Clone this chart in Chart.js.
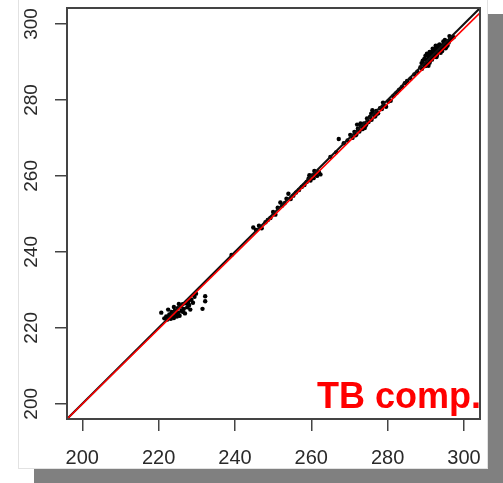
<!DOCTYPE html>
<html>
<head>
<meta charset="utf-8">
<script src="https://cdn.jsdelivr.net/npm/chart.js@4"></script>
<style>
  html, body { margin: 0; padding: 0; background: #ffffff; }
  body { width: 503px; height: 483px; position: relative; overflow: hidden; }
  #card { position: absolute; left: 18px; top: -2px; width: 468px; height: 469px;
          background: #ffffff; border: 1px solid #e2e2e2; box-shadow: 16px 16px 0 #808080; }
  #c { position: absolute; left: 0; top: 0; }
</style>
</head>
<body>
<div id="card"></div>
<canvas id="c" width="503" height="483"></canvas>
<script>
// Observed vs computed brightness temperature (K)
const measuredTB = [
  220.7,221.5,222.0,222.3,222.8,223.0,223.4,223.8,224.0,224.3,224.6,225.0,225.2,225.5,225.8,226.0,226.3,226.6,226.9,227.2,227.5,227.8,228.0,228.3,228.6,229.0,229.4,229.8,231.5,232.2,232.2,224.0,225.3,222.5,223.2,224.8,226.4,227.9,
  239.1,244.8,245.5,246.3,247.0,248.0,248.6,249.3,250.0,250.6,251.2,251.9,252.4,253.0,253.5,254.0,254.6,255.3,256.0,256.8,257.5,258.2,258.8,259.3,259.8,260.2,260.6,261.0,261.5,262.0,262.4,259.5,260.8,
  265.0,266.5,267.2,268.5,269.5,270.2,270.8,271.3,271.8,272.2,272.6,273.0,273.4,273.8,274.2,274.6,275.0,275.4,275.8,276.2,276.6,277.0,277.5,278.0,278.5,279.0,279.6,280.2,280.8,281.5,282.3,283.0,283.8,284.5,285.1,272.0,274.0,276.0,
  271.6,272.9,274.4,275.7,277.3,278.8,273.6,276.8,
  286.0,287.0,287.8,288.6,289.0,289.4,289.8,290.1,290.4,290.8,291.1,291.4,291.7,292.0,292.3,292.6,292.9,293.2,293.5,293.8,294.1,294.4,294.7,295.0,295.3,295.6,296.0,296.4,296.8,297.3,290.5,291.5,292.5,293.5,289.2,294.6,295.4,292.8,291.0,
  289.6,290.2,290.9,291.6,292.2,292.9,293.6,294.3,295.0,295.7,290.0,291.2,292.4,293.1,294.0,294.9,288.9,296.2,
  290.3,291.0,291.8,289.9,292.6,293.9,290.7,295.2
];
const computedTB = [
  224.0,222.5,223.0,222.2,223.5,222.8,224.2,223.1,222.6,224.6,223.7,225.2,224.0,223.2,225.6,224.5,226.2,225.0,223.8,226.5,225.4,227.0,226.0,224.8,227.4,226.6,228.2,229.0,225.0,227.0,228.3,225.5,226.3,224.8,222.4,223.0,224.2,225.9,
  239.2,246.4,245.8,246.9,246.2,247.8,248.4,248.9,250.5,249.8,251.6,253.0,252.2,252.8,254.0,255.3,253.9,254.8,255.6,256.3,257.1,257.6,258.4,259.3,258.8,260.1,259.4,260.6,260.0,261.0,260.4,260.2,261.3,
  265.0,266.2,269.7,268.6,269.3,270.8,270.0,271.6,270.9,272.4,271.7,273.1,272.3,273.8,273.2,275.1,274.2,275.6,274.8,276.3,275.6,277.1,276.5,277.8,277.6,278.6,278.2,279.6,279.8,281.0,281.8,282.6,283.4,284.4,285.0,273.5,272.6,277.3,
  270.7,273.8,273.5,276.4,276.4,279.3,272.6,275.8,
  285.6,286.7,287.4,288.6,288.2,289.5,288.9,290.6,289.6,291.2,290.3,291.8,290.9,292.3,291.5,292.8,292.0,293.4,292.7,293.9,293.2,294.4,293.8,295.0,294.4,295.4,295.1,295.9,296.2,296.5,291.8,292.6,293.6,294.4,290.3,295.4,294.0,291.3,289.8,
  290.8,289.3,292.2,290.6,293.3,291.7,294.6,292.9,295.8,294.3,289.0,291.0,291.4,294.2,293.0,294.0,289.7,296.8,
  292.2,292.6,293.5,291.6,294.3,292.4,289.0,293.6
];
const axisMin = 196.0;
const axisMax = 304.2;
const tickValues = [200, 220, 240, 260, 280, 300];
const identityX = [196.0, 304.2];
const identityY = [196.0, 304.2];
const fitX = [196.0, 304.2];
const fitY = [196.0, 302.9];
const annotationText = 'TB comp.';

const pts = measuredTB.map((x, i) => ({ x: x, y: computedTB[i] }));
const idPts = identityX.map((x, i) => ({ x: x, y: identityY[i] }));
const fitPts = fitX.map((x, i) => ({ x: x, y: fitY[i] }));

const frameColor = '#444444';
const labelColor = '#2a2a2a';
const fontFamily = '"Liberation Sans", Arial, Helvetica, sans-serif';

const framePlugin = {
  id: 'frame',
  afterDraw(chart) {
    const a = chart.chartArea, ctx = chart.ctx;
    ctx.save();
    ctx.strokeStyle = frameColor;
    ctx.lineWidth = 2;
    ctx.strokeRect(a.left, a.top, a.right - a.left, a.bottom - a.top);
    ctx.fillStyle = '#ff0000';
    ctx.font = 'bold 36px ' + fontFamily;
    ctx.textAlign = 'right';
    ctx.textBaseline = 'alphabetic';
    ctx.fillText(annotationText, a.right + 1, 408);
    ctx.restore();
  }
};

function fixTicks(scale) {
  scale.ticks = tickValues.map(v => ({ value: v }));
}

new Chart(document.getElementById('c'), {
  type: 'scatter',
  data: {
    datasets: [
      { data: pts, backgroundColor: '#000000', borderColor: '#000000', pointRadius: 2.2, pointHoverRadius: 2.2, borderWidth: 0, order: 3 },
      { type: 'line', data: idPts, borderColor: '#111111', borderWidth: 2, pointRadius: 0, fill: false, order: 2 },
      { type: 'line', data: fitPts, borderColor: '#ff0000', borderWidth: 1.6, pointRadius: 0, fill: false, order: 1 }
    ]
  },
  options: {
    responsive: false,
    animation: false,
    events: [],
    layout: { padding: { top: 8, right: 23, left: 0, bottom: 0 } },
    plugins: { legend: { display: false }, tooltip: { enabled: false } },
    scales: {
      x: {
        type: 'linear', min: axisMin, max: axisMax,
        afterBuildTicks: fixTicks,
        afterFit(s) { s.height = 64; s.paddingLeft = 0; s.paddingRight = 0; },
        border: { display: false },
        grid: { drawOnChartArea: false, drawTicks: true, tickLength: 12, color: frameColor, lineWidth: 1.5 },
        ticks: { color: labelColor, padding: 15, maxRotation: 0, font: { family: fontFamily, size: 20 } }
      },
      y: {
        type: 'linear', min: axisMin, max: axisMax,
        afterBuildTicks: fixTicks,
        afterFit(s) { s.width = 67; s.paddingTop = 0; s.paddingBottom = 0; },
        border: { display: false },
        grid: { drawOnChartArea: false, drawTicks: true, tickLength: 12, color: frameColor, lineWidth: 1.5 },
        ticks: { color: labelColor, padding: 7, minRotation: 90, maxRotation: 90, crossAlign: 'center',
                 font: { family: fontFamily, size: 19 } }
      }
    }
  },
  plugins: [framePlugin]
});
</script>
</body>
</html>
